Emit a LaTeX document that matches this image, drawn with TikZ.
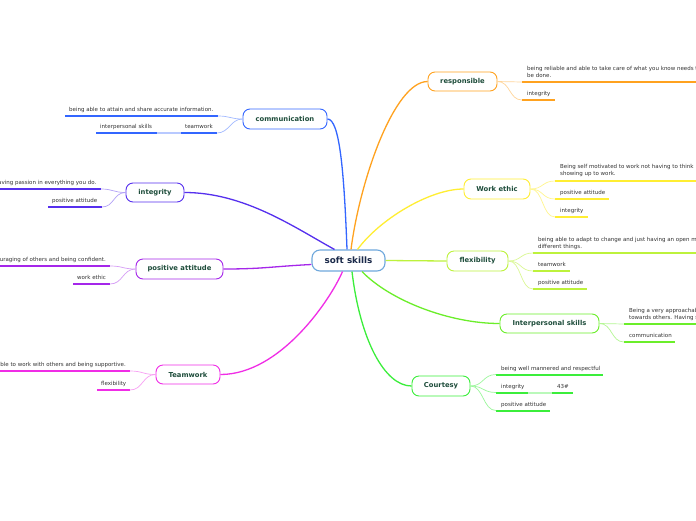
\documentclass[tikz,border=0pt]{standalone}
\usepackage{fontspec}
\setmainfont{DejaVu Sans}
\definecolor{ccomm}{HTML}{3366FF}
\definecolor{cinteg}{HTML}{5630EE}
\definecolor{cpos}{HTML}{A526EA}
\definecolor{cteam}{HTML}{F02DE6}
\definecolor{cresp}{HTML}{FFA21F}
\definecolor{cwork}{HTML}{FFEE33}
\definecolor{cflex}{HTML}{BDF23C}
\definecolor{cinter}{HTML}{6BEE2A}
\definecolor{ccourt}{HTML}{3BEE3B}
\definecolor{ccentral}{HTML}{6FA8DC}
\definecolor{tmain}{HTML}{1E4D3B}
\definecolor{tcentral}{HTML}{1B2A4A}
\definecolor{tsmall}{HTML}{333333}
\begin{document}
\begin{tikzpicture}[x=1pt,y=-1pt,
  mainbox/.style={draw, fill=white, rounded corners=7pt, line width=0.9pt, inner sep=0pt,
    font=\fontsize{6.8}{8}\selectfont\bfseries, text=tmain},
  centralbox/.style={draw=ccentral, fill=white, rounded corners=8pt, line width=1.1pt, inner sep=0pt,
    font=\fontsize{8.8}{10}\selectfont\bfseries, text=tcentral, minimum width=73pt, minimum height=21pt},
  lbl/.style={inner sep=0pt, font=\fontsize{5.5}{6.9}\selectfont, text=tsmall},
  ul/.style={line width=2pt},
  branch/.style={line width=1.3pt},
  twig/.style={line width=0.7pt}]
\useasboundingbox (0,0) rectangle (696,520);
\clip (0,0) rectangle (696,520);
\fill[white] (0,0) rectangle (696,520);

% ---------- main nodes ----------
\node[centralbox] (ss) at (348.5,260.5) {soft skills};
\node[mainbox, draw=ccomm, minimum width=84pt, minimum height=20pt] (comm) at (285,119) {communication};
\node[mainbox, draw=cinteg, minimum width=58pt, minimum height=19pt] (integ) at (155,192.5) {integrity};
\node[mainbox, draw=cpos, minimum width=87pt, minimum height=20pt] (pos) at (179.5,269) {positive attitude};
\node[mainbox, draw=cteam, minimum width=64pt, minimum height=19pt] (team) at (188,374.5) {Teamwork};
\node[mainbox, draw=cresp, minimum width=69pt, minimum height=19pt] (resp) at (462.5,81.5) {responsible};
\node[mainbox, draw=cwork, minimum width=66pt, minimum height=20pt] (work) at (497,189) {Work ethic};
\node[mainbox, draw=cflex, minimum width=61pt, minimum height=20pt] (flex) at (477.5,261) {flexibility};
\node[mainbox, draw=cinter, minimum width=99pt, minimum height=19pt] (inter) at (549.5,323.5) {Interpersonal skills};
\node[mainbox, draw=ccourt, minimum width=58pt, minimum height=20pt] (court) at (441,386) {Courtesy};

% ---------- main branches ----------
\draw[branch, ccomm] ([xshift=-1.5pt]ss.north) .. controls +(-3,-80) and +(12,0) .. (comm.east);
\draw[branch, cinteg] ([xshift=-14pt]ss.north) .. controls +(-40,-22) and +(60,0) .. (integ.east);
\draw[branch, cpos] ([yshift=-4pt]ss.west) .. controls +(-40,2) and +(40,0) .. (pos.east);
\draw[branch, cteam] ([xshift=-6pt]ss.south) .. controls +(-12,28) and +(60,0) .. (team.east);
\draw[branch, cresp] ([xshift=2.5pt]ss.north) .. controls +(9,-70) and +(-33,0) .. (resp.west);
\draw[branch, cwork] ([xshift=9pt]ss.north) .. controls +(22,-30) and +(-34,0) .. (work.west);
\draw[branch, cflex] (ss.east) -- (flex.west);
\draw[branch, cinter] ([xshift=13.5pt]ss.south) .. controls +(28,29) and +(-50,0) .. (inter.west);
\draw[branch, ccourt] ([xshift=3.5pt]ss.south) .. controls +(8,68) and +(-27,0) .. (court.west);

% ---------- communication ----------
\coordinate (c1a) at (65,116); \coordinate (c1b) at (218,116);
\node[lbl, anchor=base west] (c1t) at (69,111.5) {being able to attain and share accurate information.};
\draw[ul, ccomm] (c1a) -- (c1b);
\coordinate (c2a) at (96,133); \coordinate (c2b) at (157,133);
\coordinate (c2c) at (181,133); \coordinate (c2d) at (217,133);
\node[lbl, anchor=base west] (c2t) at (100,128.5) {interpersonal skills};
\node[lbl, anchor=base west] (c3t) at (185,128.5) {teamwork};
\draw[ul, ccomm] (c2a) -- (c2b);
\draw[ul, ccomm!35] (c2b) -- (c2c);
\draw[ul, ccomm] (c2c) -- (c2d);
\draw[twig, ccomm!45] (comm.west) .. controls +(-12,0) and +(12,0) .. (c1b);
\draw[twig, ccomm!45] (comm.west) .. controls +(-12,0) and +(12,0) .. (c2d);

% ---------- integrity ----------
\coordinate (i1a) at (-5,189); \coordinate (i1b) at (101,189);
\node[lbl, anchor=base east] (i1t) at (96.5,184.5) {Having passion in everything you do.};
\draw[ul, cinteg] (i1a) -- (i1b);
\coordinate (i2a) at (48,207); \coordinate (i2b) at (102,207);
\node[lbl, anchor=base west] (i2t) at (52,202.5) {positive attitude};
\draw[ul, cinteg] (i2a) -- (i2b);
\draw[twig, cinteg!45] (integ.west) .. controls +(-12,0) and +(12,0) .. (i1b);
\draw[twig, cinteg!45] (integ.west) .. controls +(-12,0) and +(12,0) .. (i2b);

% ---------- positive attitude ----------
\coordinate (p1a) at (-5,266); \coordinate (p1b) at (110,266);
\node[lbl, anchor=base east] (p1t) at (106,261.5) {Being encouraging of others and being confident.};
\draw[ul, cpos] (p1a) -- (p1b);
\coordinate (p2a) at (73,284); \coordinate (p2b) at (110,284);
\node[lbl, anchor=base west] (p2t) at (77,279.5) {work ethic};
\draw[ul, cpos] (p2a) -- (p2b);
\draw[twig, cpos!45] (pos.west) .. controls +(-13,0) and +(13,0) .. (p1b);
\draw[twig, cpos!45] (pos.west) .. controls +(-13,0) and +(13,0) .. (p2b);

% ---------- Teamwork ----------
\coordinate (t1a) at (-5,371); \coordinate (t1b) at (130,371);
\node[lbl, anchor=base east] (t1t) at (126,366.5) {Being able to work with others and being supportive.};
\draw[ul, cteam] (t1a) -- (t1b);
\coordinate (t2a) at (97,390); \coordinate (t2b) at (130,390);
\node[lbl, anchor=base west] (t2t) at (101,385.5) {flexibility};
\draw[ul, cteam] (t2a) -- (t2b);
\draw[twig, cteam!45] (team.west) .. controls +(-13,0) and +(13,0) .. (t1b);
\draw[twig, cteam!45] (team.west) .. controls +(-13,0) and +(13,0) .. (t2b);

% ---------- responsible ----------
\coordinate (r1a) at (522,82); \coordinate (r1b) at (702,82);
\node[lbl, anchor=north west, align=left] (r1t) at (527,66.4) {being reliable and able to take care of what you know needs to\\be done.};
\draw[ul, cresp] (r1a) -- (r1b);
\coordinate (r2a) at (522,100); \coordinate (r2b) at (555,100);
\node[lbl, anchor=base west] (r2t) at (527,95.5) {integrity};
\draw[ul, cresp] (r2a) -- (r2b);
\draw[twig, cresp!45] (resp.east) .. controls +(13,0) and +(-13,0) .. (r1a);
\draw[twig, cresp!45] (resp.east) .. controls +(13,0) and +(-13,0) .. (r2a);

% ---------- Work ethic ----------
\coordinate (w1a) at (555,181); \coordinate (w1b) at (702,181);
\node[lbl, anchor=north west, align=left] (w1t) at (560,164.4) {Being self motivated to work not having to think\\showing up to work.};
\draw[ul, cwork] (w1a) -- (w1b);
\coordinate (w2a) at (555,199); \coordinate (w2b) at (609,199);
\node[lbl, anchor=base west] (w2t) at (560,194.5) {positive attitude};
\draw[ul, cwork] (w2a) -- (w2b);
\coordinate (w3a) at (555,217); \coordinate (w3b) at (588,217);
\node[lbl, anchor=base west] (w3t) at (560,212.5) {integrity};
\draw[ul, cwork] (w3a) -- (w3b);
\draw[twig, cwork!55] (work.east) .. controls +(13,0) and +(-13,0) .. (w1a);
\draw[twig, cwork!55] (work.east) .. controls +(13,0) and +(-13,0) .. (w2a);
\draw[twig, cwork!55] (work.east) .. controls +(13,0) and +(-13,0) .. (w3a);

% ---------- flexibility ----------
\coordinate (f1a) at (533,253); \coordinate (f1b) at (702,253);
\node[lbl, anchor=north west, align=left] (f1t) at (538,237.4) {being able to adapt to change and just having an open mind to\\different things.};
\draw[ul, cflex] (f1a) -- (f1b);
\coordinate (f2a) at (533,271); \coordinate (f2b) at (570,271);
\node[lbl, anchor=base west] (f2t) at (538,266.5) {teamwork};
\draw[ul, cflex] (f2a) -- (f2b);
\coordinate (f3a) at (533,289); \coordinate (f3b) at (587,289);
\node[lbl, anchor=base west] (f3t) at (538,284.5) {positive attitude};
\draw[ul, cflex] (f3a) -- (f3b);
\draw[twig, cflex!55] (flex.east) .. controls +(13,0) and +(-13,0) .. (f1a);
\draw[twig, cflex!55] (flex.east) .. controls +(13,0) and +(-13,0) .. (f2a);
\draw[twig, cflex!55] (flex.east) .. controls +(13,0) and +(-13,0) .. (f3a);

% ---------- Interpersonal skills ----------
\coordinate (s1a) at (624,324); \coordinate (s1b) at (702,324);
\node[lbl, anchor=north west, align=left] (s1t) at (629,307.9) {Being a very approachable\\towards others. Having s};
\draw[ul, cinter] (s1a) -- (s1b);
\coordinate (s2a) at (624,342); \coordinate (s2b) at (675,342);
\node[lbl, anchor=base west] (s2t) at (629,337.5) {communication};
\draw[ul, cinter] (s2a) -- (s2b);
\draw[twig, cinter!50] (inter.east) .. controls +(13,0) and +(-13,0) .. (s1a);
\draw[twig, cinter!50] (inter.east) .. controls +(13,0) and +(-13,0) .. (s2a);

% ---------- Courtesy ----------
\coordinate (k1a) at (496,374.5); \coordinate (k1b) at (603,374.5);
\node[lbl, anchor=base west] (k1t) at (501,370) {being well mannered and respectful};
\draw[ul, ccourt] (k1a) -- (k1b);
\coordinate (k2a) at (496,392.5); \coordinate (k2b) at (528,392.5);
\coordinate (k2c) at (552,392.5); \coordinate (k2d) at (573,392.5);
\node[lbl, anchor=base west] (k2t) at (501,388) {integrity};
\node[lbl, anchor=base west] (k3t) at (557,388) {43\#};
\draw[ul, ccourt] (k2a) -- (k2b);
\draw[ul, ccourt!35] (k2b) -- (k2c);
\draw[ul, ccourt] (k2c) -- (k2d);
\coordinate (k4a) at (496,410.5); \coordinate (k4b) at (550,410.5);
\node[lbl, anchor=base west] (k4t) at (501,406) {positive attitude};
\draw[ul, ccourt] (k4a) -- (k4b);
\draw[twig, ccourt!50] (court.east) .. controls +(13,0) and +(-13,0) .. (k1a);
\draw[twig, ccourt!50] (court.east) .. controls +(13,0) and +(-13,0) .. (k2a);
\draw[twig, ccourt!50] (court.east) .. controls +(13,0) and +(-13,0) .. (k4a);
\end{tikzpicture}
\end{document}
